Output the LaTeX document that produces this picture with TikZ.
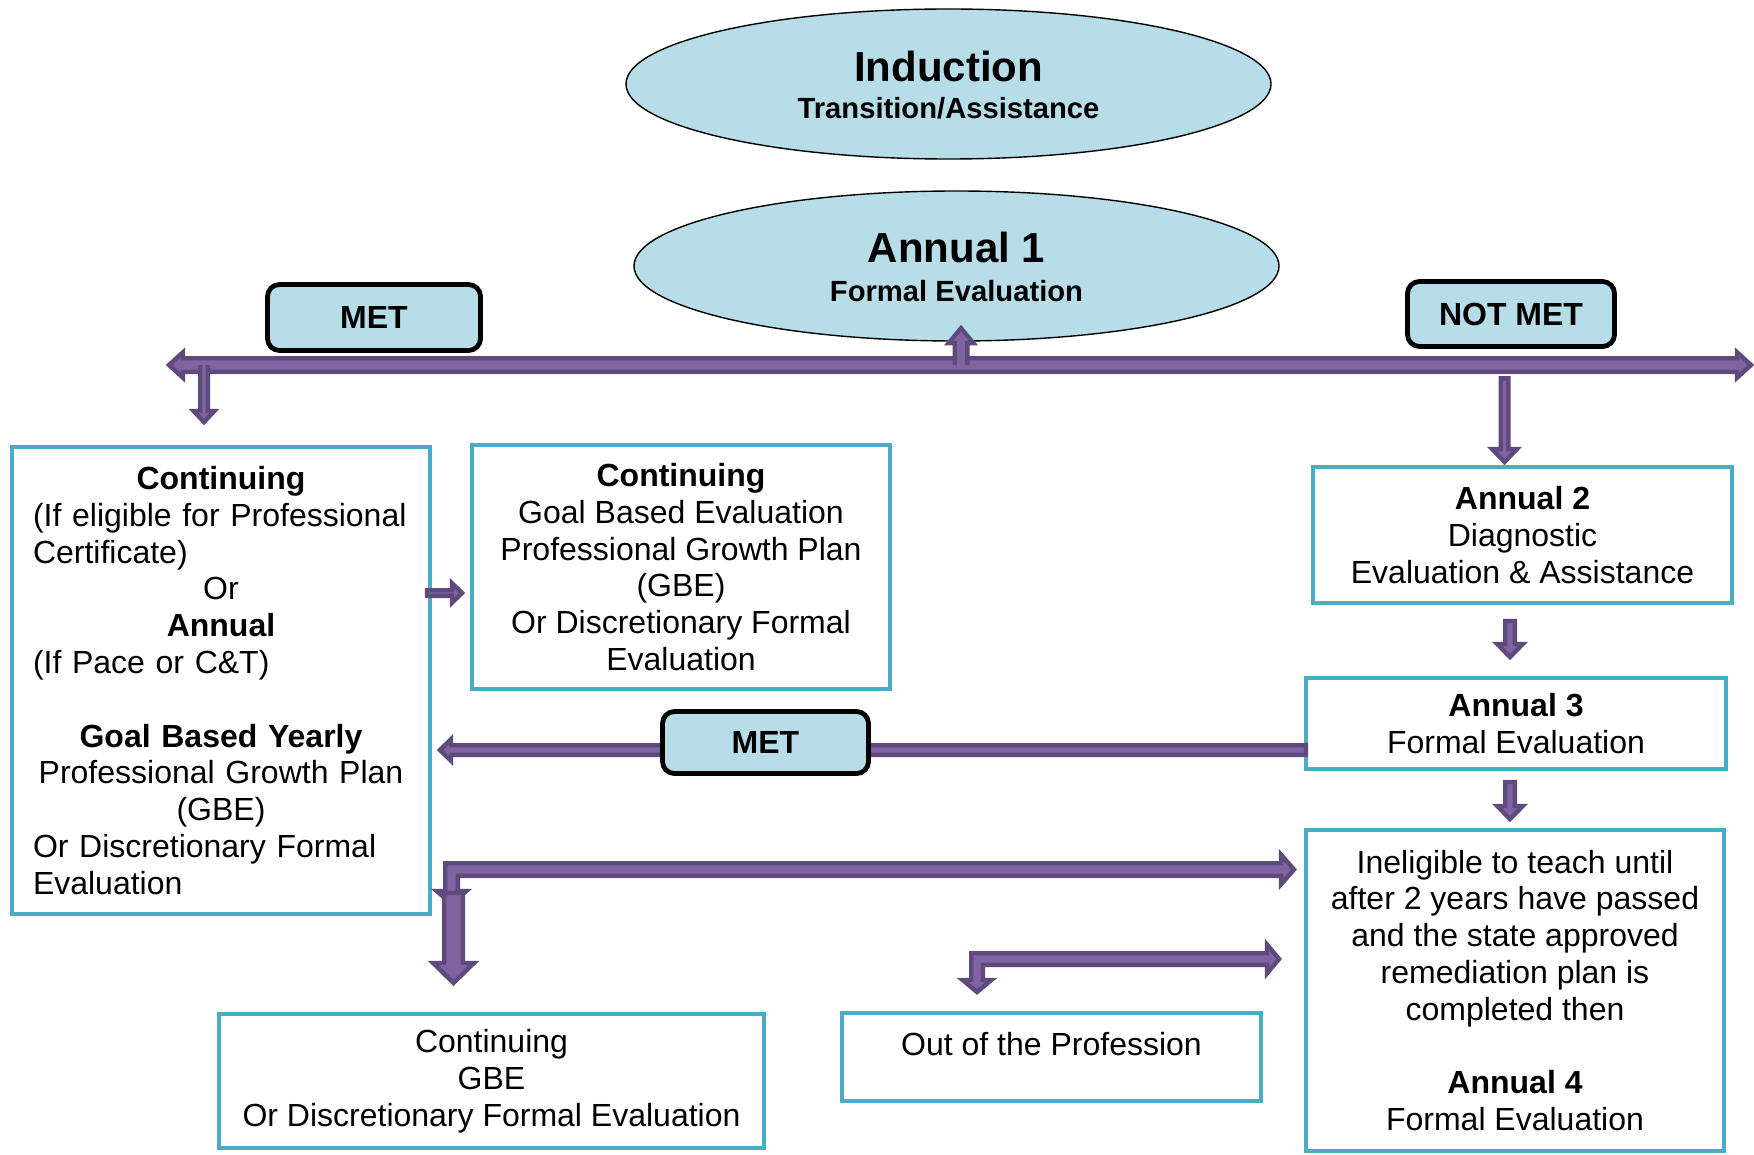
\documentclass[tikz,border=0pt]{standalone}
\usepackage{fontspec}
\setmainfont{Liberation Sans}
\usetikzlibrary{calc,shapes.geometric}

\definecolor{boxedge}{HTML}{4BACC6}
\definecolor{pale}{HTML}{B7DEE8}
\definecolor{plum}{HTML}{8064A2}
\definecolor{plumdark}{HTML}{5E4A7D}

\tikzset{
  flowbox/.style={draw=boxedge, line width=2pt, fill=white, inner sep=0pt, align=center,
    font=\fontsize{16}{18.4}\selectfont},
  stage/.style={ellipse, draw=black, line width=0.7pt, fill=pale, inner sep=0pt,
    minimum width=322.5pt, minimum height=75pt},
  stagetitle/.style={font=\bfseries\fontsize{21}{25}\selectfont, anchor=base, inner sep=0pt},
  stagesub/.style={font=\bfseries\fontsize{14.6}{17}\selectfont, anchor=base, inner sep=0pt},
  tag/.style={draw=black, line width=2.4pt, fill=pale, rounded corners=6pt, inner sep=0pt,
    font=\bfseries\fontsize{16}{19}\selectfont},
  plaintext/.style={font=\fontsize{16}{18.4}\selectfont, anchor=base, inner sep=0pt},
  arrowfill/.style={fill=plum},
  arrowedge/.style={draw=plumdark, line width=2.2pt, line join=miter},
}

% a full-width line set flush left inside a centred block
\newcommand\flushline[1]{\makebox[\hsize][l]{#1}}

% corner points of a straight block arrow: tail, tip, shaft half-width, head half-width, head length
\newcommand\arrowpoints[5]{%
  \coordinate (ap-h) at ($(#2)!#5!(#1)$);
  \coordinate (ap-1) at ($(#1)!#3!90:(#2)$);
  \coordinate (ap-2) at ($(ap-h)!#3!-90:(#1)$);
  \coordinate (ap-3) at ($(ap-h)!#4!-90:(#1)$);
  \coordinate (ap-4) at ($(ap-h)!#4!90:(#1)$);
  \coordinate (ap-5) at ($(ap-h)!#3!90:(#1)$);
  \coordinate (ap-6) at ($(#1)!#3!-90:(#2)$);
}
\newcommand\blockarrow[5]{%
  \arrowpoints{#1}{#2}{#3}{#4}{#5}
  \path[arrowfill, arrowedge] (ap-1) -- (ap-2) -- (ap-3) -- (#2) -- (ap-4) -- (ap-5) -- (ap-6) -- cycle;
}
% same, with the tail end left open where the arrow leaves the bar
\newcommand\blockarrowopen[5]{%
  \arrowpoints{#1}{#2}{#3}{#4}{#5}
  \fill[arrowfill] (ap-1) -- (ap-2) -- (ap-3) -- (#2) -- (ap-4) -- (ap-5) -- (ap-6) -- cycle;
  \draw[arrowedge] (ap-1) -- (ap-2) -- (ap-3) -- (#2) -- (ap-4) -- (ap-5) -- (ap-6);
}
% horizontal two-headed block arrow: left tip, right tip, shaft half-width, head half-width, head length
\newcommand\doublearrow[5]{%
  \path[arrowfill, arrowedge] (#1) -- ([xshift=#5, yshift=#4]#1) -- ([xshift=#5, yshift=#3]#1)
    -- ([xshift=-#5, yshift=#3]#2) -- ([xshift=-#5, yshift=#4]#2) -- (#2)
    -- ([xshift=-#5, yshift=-#4]#2) -- ([xshift=-#5, yshift=-#3]#2)
    -- ([xshift=#5, yshift=-#3]#1) -- ([xshift=#5, yshift=-#4]#1) -- cycle;
}
% bent block arrow with a head at both ends: down tip, right tip, shaft half-width, head half-width, head length
\newcommand\bentarrow[5]{%
  \coordinate (bent-c) at (#1 |- #2);
  \path[arrowfill, arrowedge] (#1) -- ([xshift=-#4, yshift=#5]#1) -- ([xshift=-#3, yshift=#5]#1)
    -- ([xshift=-#3, yshift=#3]bent-c) -- ([xshift=-#5, yshift=#3]#2) -- ([xshift=-#5, yshift=#4]#2)
    -- (#2) -- ([xshift=-#5, yshift=-#4]#2) -- ([xshift=-#5, yshift=-#3]#2)
    -- ([xshift=#3, yshift=-#3]bent-c) -- ([xshift=#3, yshift=#5]#1) -- ([xshift=#4, yshift=#5]#1) -- cycle;
}

\begin{document}
\begin{tikzpicture}[x=0.5pt, y=-0.5pt]
\useasboundingbox (0,0) rectangle (1754,1155);
\fill[white] (0,0) rectangle (1754,1155);

% ---- stages
\node[stage] (ind) at (948.5,84) {};
\node[stagetitle] (ind-t) at ($(ind.center)+(0,-2)$) {Induction};
\node[stagesub] (ind-s) at ($(ind.center)+(0,35)$) {Transition/Assistance};

\node[stage] (a1) at (956.5,266) {};
\node[stagetitle] (a1-t) at ($(a1.center)+(0,-3)$) {Annual 1};
\node[stagesub] (a1-s) at ($(a1.center)+(0,35.4)$) {Formal Evaluation};

% ---- outcome boxes
\node[flowbox, minimum width=209pt, minimum height=233.5pt, text width=188pt] (cont) at (221,680.5) {%
  \textbf{Continuing}\\
  \flushline{(If eligible for Professional}\\
  \flushline{Certificate)}\\
  Or\\
  \textbf{Annual}\\
  \flushline{(If Pace or C\&T)}\\[18.4pt]
  \textbf{Goal Based Yearly}\\
  Professional Growth Plan\\
  (GBE)\\
  \flushline{Or Discretionary Formal}\\
  \flushline{Evaluation}};

\node[flowbox, minimum width=209pt, minimum height=122pt] (gbe) at (681,567) {%
  \textbf{Continuing}\\Goal Based Evaluation\\Professional Growth Plan\\(GBE)\\Or Discretionary Formal\\Evaluation};

\node[flowbox, minimum width=209.5pt, minimum height=68pt] (a2) at (1522.5,535) {%
  \textbf{Annual 2}\\Diagnostic\\Evaluation \& Assistance};

\node[flowbox, minimum width=210pt, minimum height=45.5pt] (a3) at (1516,723.5) {%
  \textbf{Annual 3}\\Formal Evaluation};

\node[flowbox, minimum width=209pt, minimum height=160.5pt] (inel) at (1515,990.5) {%
  Ineligible to teach until\\after 2 years have passed\\and the state approved\\remediation plan is\\completed then\\[18.4pt]
  \textbf{Annual 4}\\Formal Evaluation};

\node[flowbox, minimum width=272.5pt, minimum height=67pt] (cgbe) at (491.5,1081) {%
  Continuing\\GBE\\Or Discretionary Formal Evaluation};

\node[flowbox, minimum width=209.5pt, minimum height=44pt] (out) at (1051.5,1057) {};
\node[plaintext] (out-t) at ($(out.north)+(0,44.5)$) {Out of the Profession};

% ---- result bar under Annual 1
\coordinate (barL) at (169,365);
\coordinate (barR) at (1751,365);
\doublearrow{barL}{barR}{3.4pt}{6.4pt}{7pt}

\coordinate (upT) at ($(a1.south |- barL)+(4.5,0)$);
\coordinate (upH) at ($(a1.south)+(4.5,-13.5)$);
\blockarrowopen{upT}{upH}{3.15pt}{6.2pt}{7.5pt}

\coordinate (metT) at ($(barL)+(35,0)$);
\coordinate (metH) at ($(cont.north)+(-17,-23)$);
\blockarrowopen{metT}{metH}{1.9pt}{5.2pt}{5.5pt}

\node[tag, minimum width=106.5pt, minimum height=33pt] (met1) at (374,317.5) {MET};
\node[tag, minimum width=103.5pt, minimum height=32.5pt] (notmet) at (1511,314) {NOT MET};

% ---- not met path
\coordinate (nmT) at ($(notmet.south)+(-6.5,29.5)$);
\coordinate (nmH) at ($(a2.north)+(-18,-3)$);
\blockarrow{nmT}{nmH}{1.9pt}{6.2pt}{6.5pt}

\coordinate (a2T) at ($(a2.south)+(-12.5,16)$);
\coordinate (a2H) at ($(a3.north)+(-6,-19)$);
\blockarrow{a2T}{a2H}{2.4pt}{6.4pt}{6.5pt}

\coordinate (a3T) at ($(a3.south)+(-6,11)$);
\coordinate (a3H) at ($(inel.north)+(-5,-9)$);
\blockarrow{a3T}{a3H}{2.4pt}{6.4pt}{6.5pt}

% ---- met after Annual 3
\coordinate (backT) at ($(a3.west)+(2,26.5)$);
\coordinate (backH) at ($(cont.east)+(8,69.5)$);
\blockarrow{backT}{backH}{2.4pt}{5.4pt}{5.5pt}
\node[tag, minimum width=103pt, minimum height=31pt] (met2) at (765.5,742.5) {MET};

% ---- continuing to goal based evaluation
\coordinate (gT) at ($(cont.east)+(-5,-87.5)$);
\coordinate (gH) at ($(gbe.west)+(-8,26)$);
\blockarrow{gT}{gH}{1.4pt}{4.9pt}{5pt}

% ---- lower bent arrows
\coordinate (e1D) at ($(cont.south)+(230.5,-12)$);
\coordinate (e1R) at ($(inel.west)+(-10,-121)$);
\bentarrow{e1D}{e1R}{3.15pt}{7.4pt}{6.5pt}

\coordinate (dT) at ($(cgbe.north)+(-38,-119)$);
\coordinate (dH) at ($(cgbe.north)+(-38,-29)$);
\blockarrow{dT}{dH}{4.65pt}{10.2pt}{10pt}

\coordinate (e2D) at ($(out.north)+(-74.5,-19)$);
\coordinate (e2R) at ($(inel.west)+(-25,-31.5)$);
\bentarrow{e2D}{e2R}{2.9pt}{7.2pt}{6pt}
\end{tikzpicture}
\end{document}
